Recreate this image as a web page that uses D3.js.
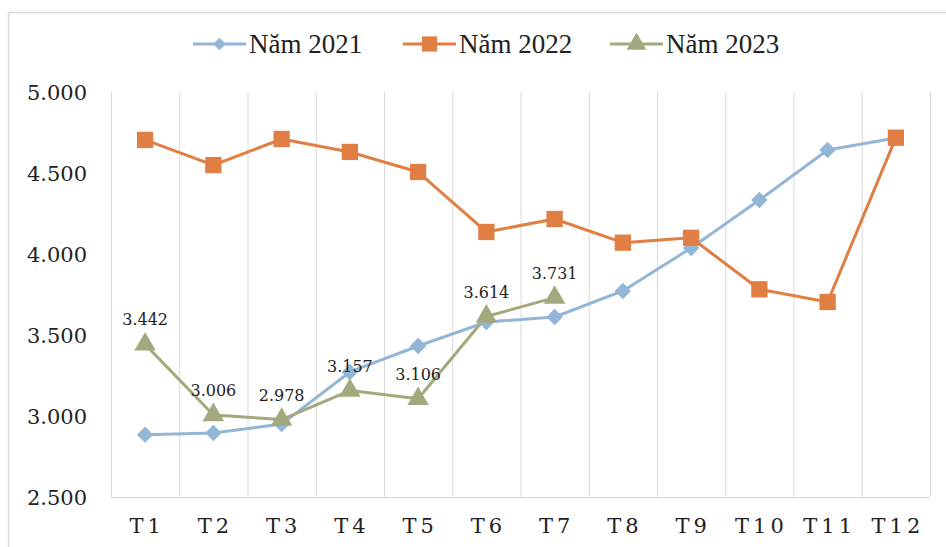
<!DOCTYPE html>
<html><head><meta charset="utf-8">
<script src="https://cdn.jsdelivr.net/npm/d3@7"></script>
<style>body{margin:0;background:#fff;}svg{display:block;}</style>
</head><body>
<svg id="c" width="946" height="547"></svg>
<script>
const categories = ["T1","T2","T3","T4","T5","T6","T7","T8","T9","T10","T11","T12"];
const series2021 = [2885, 2895, 2950, 3272, 3432, 3580, 3611, 3772, 4037, 4333, 4642, 4716];
const series2022 = [4704, 4549, 4710, 4630, 4506, 4136, 4216, 4070, 4100, 3782, 3704, 4718];
const series2023 = [3442, 3006, 2978, 3157, 3106, 3614, 3731];
const yTicks = [2500, 3000, 3500, 4000, 4500, 5000];
const seriesNames = ["Năm 2021", "Năm 2022", "Năm 2023"];

const colors = ["#93B5D6", "#E07E43", "#A3A97D"];
const svg = d3.select("#c");

// frame
svg.append("rect").attr("x",8.5).attr("y",12.5).attr("width",960).attr("height",560)
  .attr("fill","none").attr("stroke","#d9d9d9").attr("stroke-width",1.5);

const pLeft = 111, pRight = 930, pTop = 92, pBottom = 497;
const x = d3.scaleBand().domain(categories).range([pLeft, pRight]);
const y = d3.scaleLinear().domain([2500, 5000]).range([pBottom, pTop]);

// vertical gridlines at band boundaries
const bounds = categories.map(c => x(c)).concat([pRight]);
svg.append("g").selectAll("line").data(bounds).join("line")
  .attr("x1", d => d + 0.5).attr("x2", d => d + 0.5)
  .attr("y1", pTop).attr("y2", pBottom)
  .attr("stroke", "#d9d9d9").attr("stroke-width", 1);
svg.append("line").attr("x1", pLeft).attr("x2", pRight).attr("y1", pBottom+0.5).attr("y2", pBottom+0.5)
  .attr("stroke", "#d9d9d9").attr("stroke-width", 1.2);

// y axis labels
const fmt = d => d3.format(",.0f")(d).replace(",", ".");
const yAxis = d3.axisLeft(y).tickValues(yTicks).tickSize(0).tickPadding(0).tickFormat(fmt);
const gy = svg.append("g").attr("transform", `translate(87,0)`).call(yAxis);
gy.select(".domain").remove();
gy.selectAll("text").attr("font-family","DejaVu Serif").attr("font-size",21).attr("fill","#222").attr("dy","0.36em");

// x axis labels
const xAxis = d3.axisBottom(x).tickSize(0).tickPadding(0);
const gx = svg.append("g").attr("transform", `translate(0,525)`).call(xAxis);
gx.select(".domain").remove();
gx.selectAll("text").attr("font-family","DejaVu Serif").attr("font-size",21).attr("fill","#222")
  .attr("letter-spacing","4px").attr("dx","2px").attr("dy","0.36em");

const cx = c => x(c) + x.bandwidth()/2;
const line = d3.line().x((d,i) => cx(categories[i])).y(d => y(d));

const all = [series2021, series2022, series2023];
const symbols = [d3.symbolSquare, d3.symbolSquare, d3.symbolTriangle];
const rot = [45, 0, 0];
const sizes = [135, 265, 200];

all.forEach((s, k) => {
  svg.append("path").datum(s).attr("d", line).attr("fill","none")
    .attr("stroke", colors[k]).attr("stroke-width", 3).attr("stroke-linejoin","round");
});
all.forEach((s, k) => {
  svg.append("g").selectAll("path").data(s).join("path")
    .attr("transform", (d,i) => `translate(${cx(categories[i])},${y(d)}) rotate(${rot[k]})`)
    .attr("d", d3.symbol().type(symbols[k]).size(sizes[k]))
    .attr("fill", colors[k]);
});

// data labels for 2023
svg.append("g").selectAll("text").data(series2023).join("text")
  .attr("x", (d,i) => cx(categories[i])).attr("y", d => y(d) - 19)
  .attr("text-anchor","middle").attr("font-family","DejaVu Serif").attr("font-size",16)
  .attr("fill","#222")
  .text(fmt);

// legend
const legendX = [193, 403, 610];
const legendSizes = [80, 230, 170];
seriesNames.forEach((n, k) => {
  const g = svg.append("g").attr("transform", `translate(${legendX[k]},44)`);
  g.append("line").attr("x1",0).attr("x2",53).attr("y1",0).attr("y2",0)
    .attr("stroke", colors[k]).attr("stroke-width",3);
  g.append("path").attr("transform",`translate(26.5,0) rotate(${rot[k]})`)
    .attr("d", d3.symbol().type(symbols[k]).size(legendSizes[k])).attr("fill", colors[k]);
  g.append("text").attr("x",56).attr("y",0).attr("dy","0.33em")
    .attr("font-family","Liberation Serif").attr("font-size",27).attr("fill","#222").text(n);
});
</script>
</body></html>
